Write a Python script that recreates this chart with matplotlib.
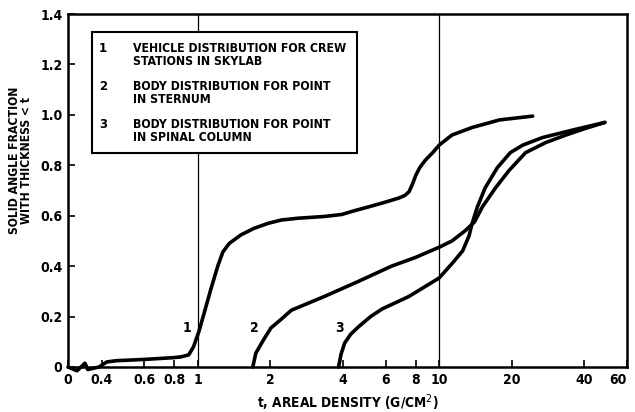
import matplotlib
matplotlib.use("Agg")
import matplotlib.pyplot as plt
from matplotlib import font_manager
from matplotlib.font_manager import FontProperties
from matplotlib.patches import Rectangle
import numpy as np


def pick_font():
    cands = []
    for f in font_manager.fontManager.ttflist:
        key = (f.name + " " + f.fname).lower()
        if ("condensed" in key or "narrow" in key) and "italic" not in key and "oblique" not in key:
            w = f.weight if isinstance(f.weight, int) else (700 if "bold" in str(f.weight) else 400)
            cands.append((abs(w - 700), "semi" in key or "extra" in key, f.fname))
    if cands:
        cands.sort()
        return cands[0][2], True
    return None, False


FONTFILE, CONDENSED = pick_font()


def fp(size):
    if FONTFILE:
        return FontProperties(fname=FONTFILE, size=size)
    return FontProperties(family=["Liberation Sans", "DejaVu Sans"], weight="bold", size=size)


# Curve 1: vehicle distribution for crew stations in Skylab
c1_x = [0.29, 0.316, 0.341, 0.35, 0.39, 0.42, 0.46, 0.6, 0.79, 0.85, 0.917, 0.96, 1.01, 1.06, 1.13,
        1.21, 1.27, 1.35, 1.51, 1.71, 1.96, 2.22, 2.6, 3.35, 3.95, 4.46, 5.1, 5.8, 6.8, 7.2, 7.5, 7.75,
        8.0, 8.3, 8.76, 9.4, 10.0, 11.3, 13.7, 17.8, 24.4]
c1_y = [0.0, -0.015, 0.015, -0.01, 0.0, 0.02, 0.025, 0.03, 0.037, 0.04, 0.048, 0.08, 0.14, 0.21, 0.305,
        0.40, 0.456, 0.49, 0.524, 0.55, 0.57, 0.583, 0.59, 0.597, 0.605, 0.62, 0.635, 0.65, 0.67, 0.68, 0.695, 0.725,
        0.76, 0.79, 0.82, 0.85, 0.88, 0.92, 0.95, 0.98, 0.995]

# Curve 2: body distribution for point in sternum
c2_x = [1.69, 1.74, 1.87, 2.01, 2.22, 2.44, 3.35, 4.64, 6.35, 8.0, 10.0, 11.3, 12.8, 14.0, 15.1,
        17.1, 19.5, 22.8, 27.6, 33.5, 40.0, 48.6]
c2_y = [0.0, 0.055, 0.107, 0.155, 0.19, 0.225, 0.28, 0.34, 0.40, 0.435, 0.475, 0.50, 0.54, 0.575, 0.635,
        0.71, 0.78, 0.85, 0.89, 0.92, 0.945, 0.97]

# Curve 3: body distribution for point in spinal column
c3_x = [3.83, 3.92, 4.06, 4.3, 4.64, 5.2, 5.8, 7.5, 10.0, 11.3, 12.5, 13.3, 13.7, 14.4, 15.5,
        17.4, 19.7, 22.2, 26.8, 35.8, 48.6]
c3_y = [0.0, 0.05, 0.095, 0.13, 0.16, 0.2, 0.23, 0.28, 0.353, 0.41, 0.46, 0.52, 0.57, 0.635, 0.71,
        0.79, 0.85, 0.88, 0.91, 0.94, 0.97]

xticks = [0.29, 0.4, 0.6, 0.8, 1, 2, 4, 6, 8, 10, 20, 40, 60]
xticklabels = ["0", "0.4", "0.6", "0.8", "1", "2", "4", "6", "8", "10", "20", "40", "60"]
yticks = [0, 0.2, 0.4, 0.6, 0.8, 1.0, 1.2, 1.4]
yticklabels = ["0", "0.2", "0.4", "0.6", "0.8", "1.0", "1.2", "1.4"]

legend_nums = ["1", "2", "3"]
legend_texts = ["VEHICLE DISTRIBUTION FOR CREW\nSTATIONS IN SKYLAB",
                "BODY DISTRIBUTION FOR POINT\nIN STERNUM",
                "BODY DISTRIBUTION FOR POINT\nIN SPINAL COLUMN"]
label_pos = [(0.9, 0.125), (1.71, 0.125), (3.85, 0.125)]

W, H = 635, 412
fig = plt.figure(figsize=(W / 100, H / 100), dpi=100)
ax = fig.add_axes([68 / W, 1 - 367 / H, (627 - 68) / W, (367 - 14) / H])
ax.set_xscale("log")
ax.set_xlim(0.29, 60)
ax.set_ylim(0, 1.4)

lw = 2.6
for xs, ys in [(c1_x, c1_y), (c2_x, c2_y), (c3_x, c3_y)]:
    ax.plot(xs, ys, color="black", lw=lw, solid_capstyle="round", solid_joinstyle="round",
            clip_on=False, zorder=3)

for v in [1, 10]:
    ax.axvline(v, color="black", lw=0.9, zorder=1)

ax.xaxis.set_minor_locator(matplotlib.ticker.NullLocator())
ax.set_xticks(xticks)
ax.set_xticklabels(xticklabels)
ax.set_yticks(yticks)
ax.set_yticklabels(yticklabels)
ax.tick_params(direction="in", length=5, width=1.2, pad=4)
for lab in ax.get_xticklabels() + ax.get_yticklabels():
    lab.set_fontproperties(fp(10))
ax.get_xticklabels()[-1].set_horizontalalignment("right")
for sp in ax.spines.values():
    sp.set_linewidth(1.8)

xl = ax.set_xlabel("t, AREAL DENSITY (G/CM$^2$)", fontproperties=fp(9), labelpad=4)
yl = ax.set_ylabel("SOLID ANGLE FRACTION\nWITH THICKNESS < t", fontproperties=fp(8),
                   linespacing=0.95)
ax.yaxis.set_label_coords(-0.062, 0.586)

for (lx, ly), num in zip(label_pos, legend_nums):
    ax.text(lx, ly, num, fontproperties=fp(10), ha="center", va="bottom")

# legend box
bx0, by0, bx1, by1 = 92, 32, 357, 153
rect = Rectangle((bx0 / W, 1 - by1 / H), (bx1 - bx0) / W, (by1 - by0) / H, transform=fig.transFigure,
                 facecolor="white", edgecolor="black", lw=1.5, zorder=5)
fig.patches.append(rect)
rows = [42, 80, 118]
leg_objs = []
num_objs = []
for r, num, txt in zip(rows, legend_nums, legend_texts):
    num_objs.append(fig.text(103 / W, 1 - r / H, num, fontproperties=fp(8), va="top", ha="center", zorder=6))
    leg_objs.append(fig.text(133 / W, 1 - r / H, txt, fontproperties=fp(8), va="top", ha="left",
                             linespacing=1.0, zorder=6))


def fit(text_obj, target, axis=0, base=8.0):
    fig.canvas.draw()
    bb = text_obj.get_window_extent()
    cur = bb.width if axis == 0 else bb.height
    if cur > 0:
        text_obj.set_fontsize(base * target / cur)


fit(leg_objs[0], 214, 0, 8.0)
s = leg_objs[0].get_fontsize()
for t in leg_objs[1:]:
    t.set_fontsize(s)
for t in num_objs:
    t.set_fontsize(s + 0.5)
fit(xl, 182, 0, 9.0)
fit(yl, 148, 1, 8.0)

fig.savefig("out.png", dpi=100)
